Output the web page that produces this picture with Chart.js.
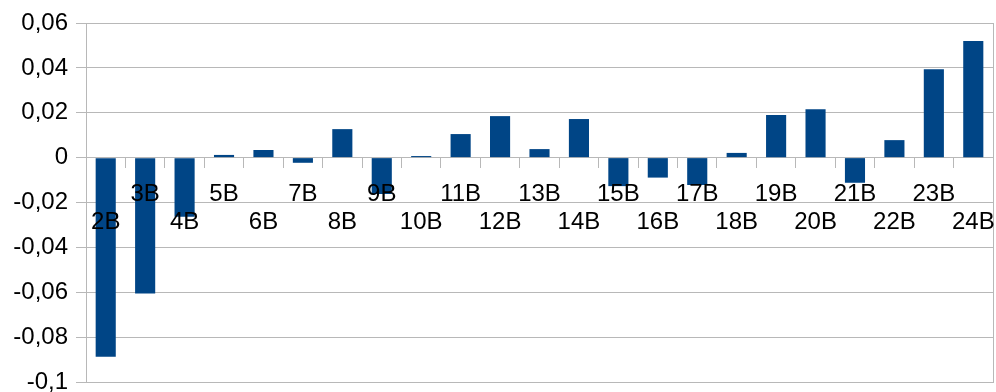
<!DOCTYPE html>
<html>
<head>
<meta charset="utf-8">
<script src="https://cdn.jsdelivr.net/npm/chart.js@4/dist/chart.umd.min.js"></script>
<style>
  html, body { margin: 0; padding: 0; background: #ffffff; overflow: hidden; }
  #wrap { position: relative; width: 996px; height: 392px; }
</style>
</head>
<body>
<div id="wrap"><canvas id="c"></canvas></div>
<script>
const categories = ['2B','3B','4B','5B','6B','7B','8B','9B','10B','11B','12B','13B','14B','15B','16B','17B','18B','19B','20B','21B','22B','23B','24B'];
const values = [-0.0887, -0.0606, -0.0263, 0.0012, 0.0034, -0.0023, 0.0127, -0.0162, 0.0007, 0.0105, 0.0185, 0.0038, 0.0172, -0.0127, -0.0089, -0.0122, 0.0021, 0.0190, 0.0216, -0.0112, 0.0078, 0.0394, 0.0520];
const yTicks = [-0.1, -0.08, -0.06, -0.04, -0.02, 0, 0.02, 0.04, 0.06];

const GRID = '#b8b8b8';
const FONT = { family: '"Liberation Sans", Arial, sans-serif', size: 24 };

function fmt(v) {
  return Number(v.toFixed(2)).toString().replace('.', ',');
}

new Chart(document.getElementById('c'), {
  type: 'bar',
  data: {
    labels: categories,
    datasets: [{
      data: values,
      backgroundColor: '#004586',
      borderWidth: 0,
      barPercentage: 0.51,
      categoryPercentage: 1.0
    }]
  },
  options: {
    responsive: true,
    maintainAspectRatio: false,
    animation: false,
    devicePixelRatio: 1,
    layout: { padding: { top: 23, bottom: 10, left: 0, right: 3 } },
    plugins: { legend: { display: false }, tooltip: { enabled: false } },
    scales: {
      x: {
        position: { y: 0 },
        offset: true,
        grid: {
          display: true,
          drawOnChartArea: false,
          drawTicks: true,
          tickLength: 10,
          tickColor: GRID,
          offset: true
        },
        border: { display: true, color: GRID, width: 1 },
        ticks: {
          z: 1,
          autoSkip: false,
          maxRotation: 0,
          minRotation: 0,
          padding: 12,
          color: '#000000',
          font: FONT,
          callback: function (value, index) {
            const lbl = this.getLabelForValue(value);
            return index % 2 === 1 ? [lbl] : ['', lbl];
          }
        },
        afterFit: function (s) { s.paddingLeft = 0; s.paddingRight = 0; }
      },
      y: {
        position: 'left',
        min: -0.1,
        max: 0.06,
        afterBuildTicks: function (s) { s.ticks = yTicks.map(v => ({ value: v })); },
        grid: {
          color: GRID,
          lineWidth: 1,
          drawTicks: true,
          tickLength: 10,
          tickColor: GRID
        },
        border: { display: true, color: GRID, width: 1 },
        ticks: {
          padding: 8,
          color: '#000000',
          font: FONT,
          callback: function (value) { return fmt(value); }
        },
        afterFit: function (s) { s.width = 86; s.paddingTop = 0; s.paddingBottom = 0; }
      },
      y2: {
        position: 'right',
        display: true,
        grid: { display: true, drawOnChartArea: false, drawTicks: false },
        border: { display: true, color: GRID, width: 1 },
        ticks: { display: false },
        afterFit: function (s) { s.width = 0; s.paddingTop = 0; s.paddingBottom = 0; }
      }
    }
  }
});
</script>
</body>
</html>
